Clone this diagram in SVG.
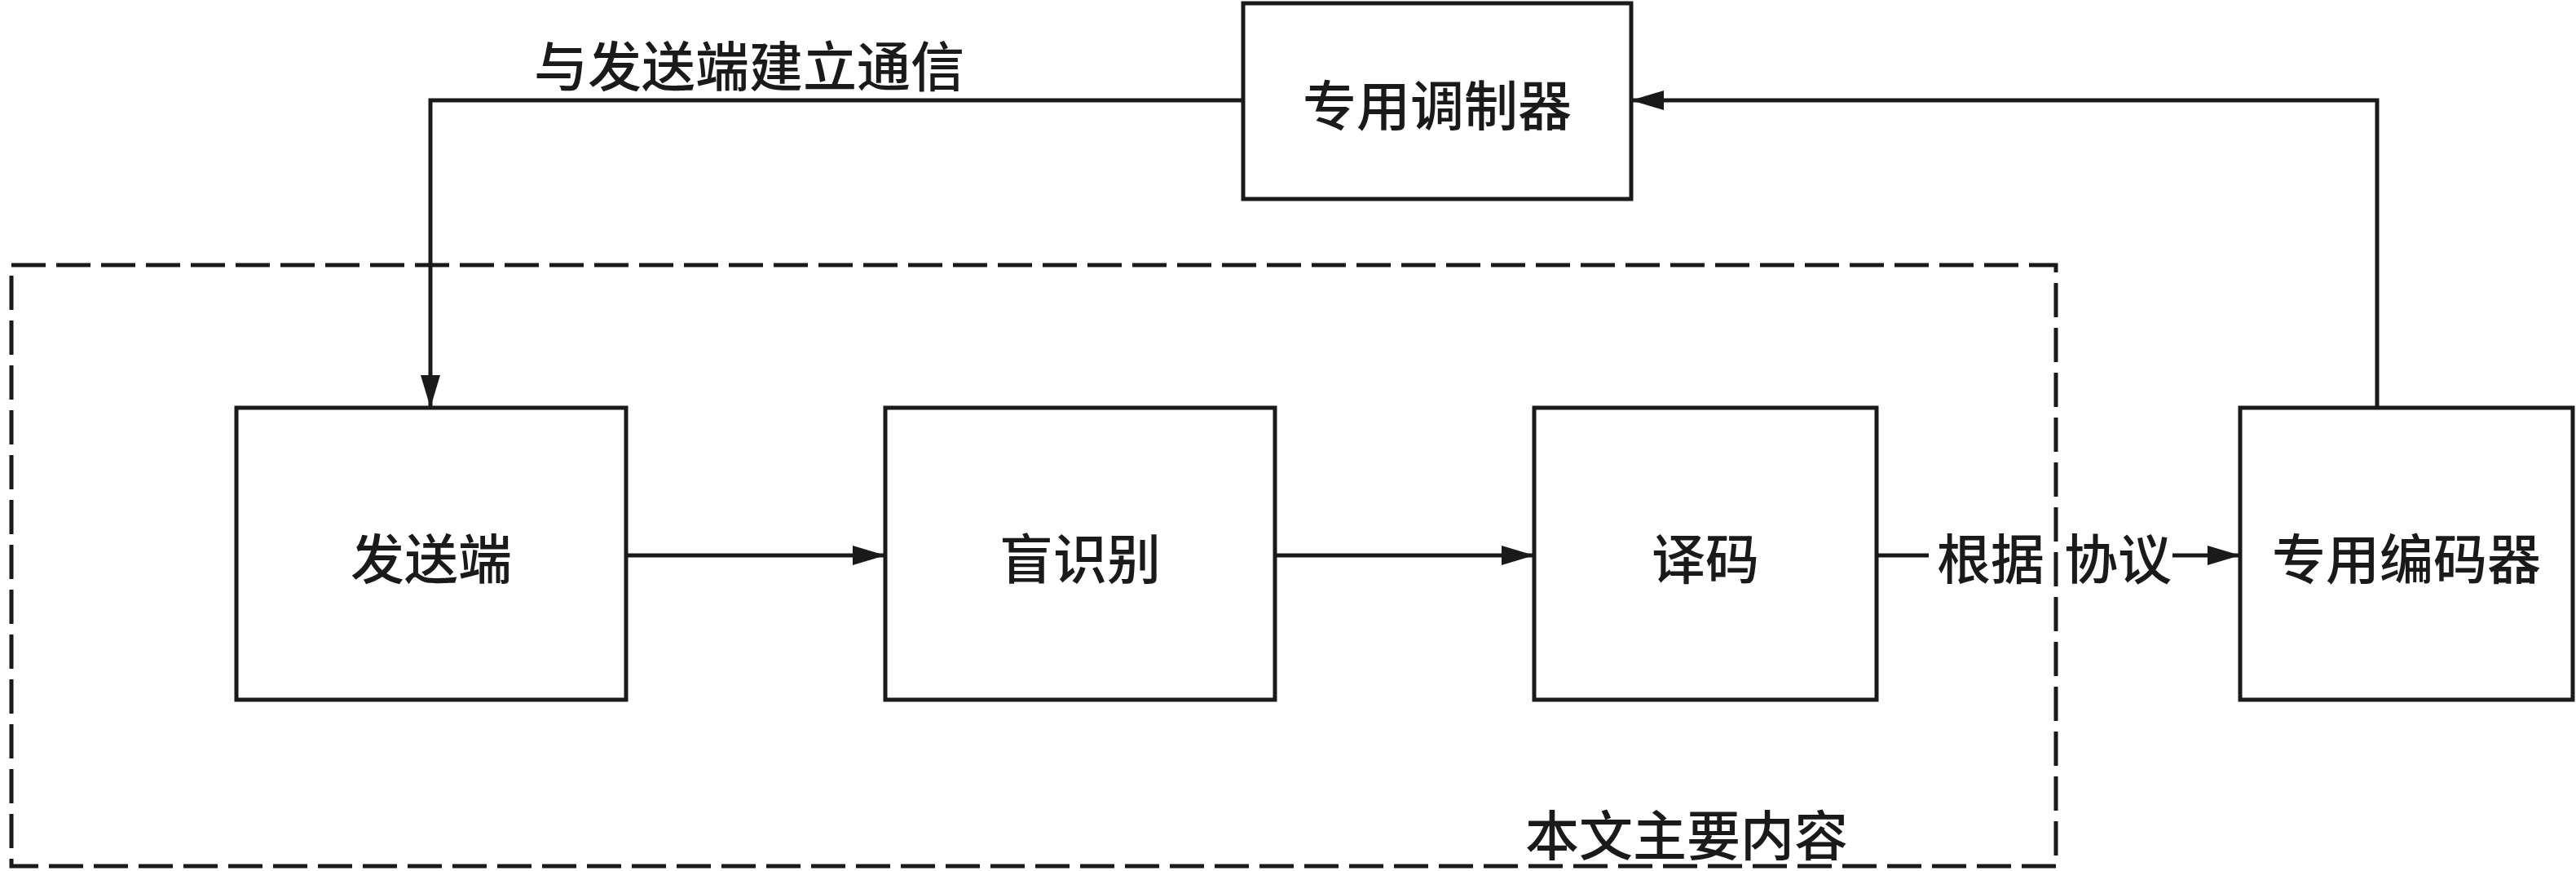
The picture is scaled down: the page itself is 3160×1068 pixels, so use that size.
<svg xmlns="http://www.w3.org/2000/svg" width="3160" height="1068" viewBox="0 0 3160 1068">
<style>
.box{fill:#fff;stroke:#1a1a1a;stroke-width:5}
.dash{fill:none;stroke:#1a1a1a;stroke-width:5;stroke-dasharray:42 13}
.ln{fill:none;stroke:#1a1a1a;stroke-width:5}
.t{font-family:"Noto Sans CJK SC","Noto Sans CJK JP",sans-serif;font-size:66px;font-weight:500;fill:#1a1a1a;dominant-baseline:central}
.m{text-anchor:middle}
</style>
<defs>
<marker id="arr" viewBox="0 0 40 24" markerWidth="40" markerHeight="24" refX="40" refY="12" orient="auto" markerUnits="userSpaceOnUse">
<path d="M0,0 L40,12 L0,24 z" fill="#1a1a1a"/>
</marker>
</defs>
<rect width="3160" height="1068" fill="#fff"/>
<g id="scope">
<rect class="dash" x="14" y="325" width="2508" height="737"/>
<text class="t" x="2069" y="1020" text-anchor="middle">本文主要内容</text>
</g>
<g id="connectors">
<path class="ln" d="M768,681 H1086" marker-end="url(#arr)"/>
<path class="ln" d="M1564,681 H1882" marker-end="url(#arr)"/>
<path class="ln" d="M2302,681 H2366"/>
<path class="ln" d="M2665,681 H2748" marker-end="url(#arr)"/>
<path class="ln" d="M2916,500 V123 H2001" marker-end="url(#arr)"/>
<path class="ln" d="M1525,123 H528 V500" marker-end="url(#arr)"/>
<text class="t m" x="919" y="77">与发送端建立通信</text>
<text class="t" x="2376" y="681">根据<tspan dx="24">协议</tspan></text>
</g>
<g id="modulator">
<rect class="box" x="1525" y="4" width="476" height="240"/>
<text class="t m" x="1763" y="125">专用调制器</text>
</g>
<g id="sender">
<rect class="box" x="290" y="500" width="478" height="358"/>
<text class="t m" x="529" y="681">发送端</text>
</g>
<g id="blind">
<rect class="box" x="1086" y="500" width="478" height="358"/>
<text class="t m" x="1325" y="681">盲识别</text>
</g>
<g id="decoder">
<rect class="box" x="1882" y="500" width="420" height="358"/>
<text class="t m" x="2092" y="681">译码</text>
</g>
<g id="encoder">
<rect class="box" x="2748" y="500" width="408" height="358"/>
<text class="t m" x="2952" y="681">专用编码器</text>
</g>
</svg>
